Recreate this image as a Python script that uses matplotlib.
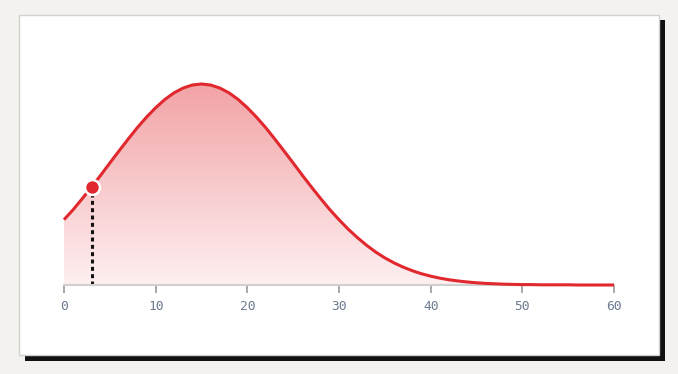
import numpy as np
import matplotlib.pyplot as plt
from matplotlib.patches import Rectangle, Polygon

# curve heights (peak = 1), one per x unit
x_vals = list(range(0, 61))
y_vals = [0.325, 0.375, 0.430, 0.487, 0.546, 0.607, 0.667, 0.726, 0.783, 0.835,
          0.882, 0.923, 0.956, 0.980, 0.995, 1.000, 0.995, 0.980, 0.956, 0.923,
          0.882, 0.835, 0.783, 0.726, 0.667, 0.607, 0.546, 0.487, 0.430, 0.375,
          0.325, 0.278, 0.236, 0.198, 0.164, 0.135, 0.110, 0.089, 0.071, 0.056,
          0.044, 0.034, 0.026, 0.020, 0.015, 0.011, 0.008, 0.006, 0.004, 0.003,
          0.002, 0.002, 0.001, 0.001, 0.001, 0.001, 0.000, 0.000, 0.000, 0.000,
          0.000]
marker_x = 3
tick_vals = [0, 10, 20, 30, 40, 50, 60]

W, H = 678, 374
fig = plt.figure(figsize=(W / 100, H / 100), dpi=100)
fig.patch.set_facecolor("#f3f2ee")

# card with offset shadow
fig.patches.append(Rectangle((25 / W, 1 - 361 / H), 640 / W, 341 / H,
                             transform=fig.transFigure, facecolor="#111111",
                             edgecolor="none", zorder=0))
fig.patches.append(Rectangle((19 / W, 1 - 355 / H), 640 / W, 340 / H,
                             transform=fig.transFigure, facecolor="white",
                             edgecolor="#d0d0d0", linewidth=1, zorder=1))

ax = fig.add_axes([64 / W, 89 / H, 550 / W, 201 / H])
ax.set_zorder(5)
ax.set_facecolor("none")
ax.set_xlim(0, 60)
ax.set_ylim(0, 1)

# gradient fill under the curve
top = np.array([0.95, 0.64, 0.65])
bot = np.array([0.995, 0.94, 0.945])
t = np.linspace(0, 1, 256)[:, None]
grad = (bot + (top - bot) * t)[:, None, :]
img = ax.imshow(grad, extent=[0, 60, 0, 1], origin="lower", aspect="auto", zorder=1)
poly = Polygon(list(zip(x_vals, y_vals)) + [(60, 0), (0, 0)], closed=True,
               facecolor="none", edgecolor="none", transform=ax.transData)
ax.add_patch(poly)
img.set_clip_path(poly)

ax.plot(x_vals, y_vals, color="#e0282e", lw=2.2, zorder=3, clip_on=False,
        solid_capstyle="butt")

my = y_vals[x_vals.index(marker_x)]
ax.plot([marker_x, marker_x], [0, my], color="#111111", lw=2.2,
        linestyle=(0, (1.3, 1.1)), zorder=2)
ax.scatter([marker_x], [my], s=115, color="#e0282e", edgecolor="white",
           linewidth=1.8, zorder=4, clip_on=False)

for s in ["top", "right", "left"]:
    ax.spines[s].set_visible(False)
ax.spines["bottom"].set_color("#d0d0d0")
ax.spines["bottom"].set_linewidth(1.5)
ax.set_yticks([])
ax.set_xticks(tick_vals)
ax.tick_params(axis="x", length=6, width=1.2, color="#999999", pad=5,
               labelsize=9.3, labelcolor="#6b7a8f")
for lab in ax.get_xticklabels():
    lab.set_family("DejaVu Sans Mono")

fig.savefig("out.png", dpi=100, facecolor=fig.get_facecolor())
